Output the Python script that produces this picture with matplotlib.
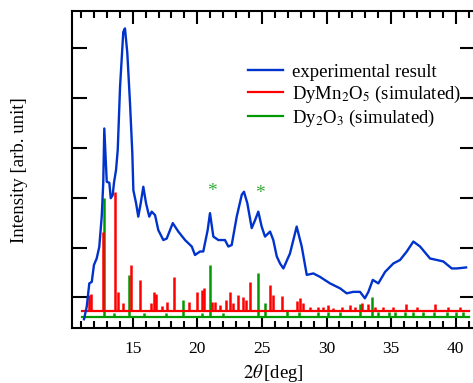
import matplotlib
matplotlib.use("Agg")
import matplotlib.pyplot as plt

plt.rcParams['font.family'] = ['Liberation Serif', 'DejaVu Serif']
plt.rcParams['mathtext.fontset'] = 'stix'

# experimental XRD pattern (traced)
exp_2theta = [11.23, 11.44, 11.64, 11.83, 12.00, 12.21, 12.41, 12.60, 12.72, 12.80,
              12.99, 13.19, 13.30, 13.45, 13.55, 13.71, 13.84, 14.02, 14.27, 14.40,
              14.58, 14.79, 14.97, 15.05, 15.26, 15.43, 15.62, 15.82, 16.03, 16.28,
              16.47, 16.73, 16.98, 17.37, 17.63, 18.10, 18.53, 19.05, 19.57, 19.82,
              20.21, 20.46, 20.80, 20.98, 21.24, 21.63, 22.14, 22.40, 22.66, 23.05,
              23.44, 23.61, 23.87, 24.21, 24.47, 24.72, 24.98, 25.24, 25.63, 25.88,
              26.15, 26.40, 26.66, 27.17, 27.69, 28.08, 28.47, 28.98, 29.50, 30.27,
              31.05, 31.56, 32.07, 32.59, 32.97, 33.24, 33.58, 34.01, 34.53, 35.17,
              35.69, 36.21, 36.72, 37.24, 38.01, 38.53, 39.04, 39.69, 40.08, 40.80]
exp_int = [-0.44, -0.19, 0.28, 0.31, 0.65, 0.78, 1.01, 1.62, 2.30, 3.39,
           2.32, 2.30, 1.99, 2.05, 2.30, 2.56, 2.96, 4.23, 5.33, 5.40,
           4.91, 3.90, 2.89, 2.15, 1.89, 1.62, 1.89, 2.22, 1.89, 1.62,
           1.72, 1.65, 1.35, 1.15, 1.18, 1.49, 1.32, 1.15, 1.02, 0.85,
           0.92, 0.92, 1.35, 1.69, 1.22, 1.15, 1.15, 1.02, 1.05, 1.62,
           2.06, 2.12, 1.89, 1.39, 1.55, 1.72, 1.42, 1.22, 1.32, 1.15,
           0.82, 0.68, 0.58, 0.88, 1.42, 1.02, 0.45, 0.48, 0.41, 0.28,
           0.18, 0.08, 0.11, 0.11, -0.02, 0.11, 0.35, 0.28, 0.51, 0.68,
           0.75, 0.92, 1.12, 1.02, 0.78, 0.75, 0.72, 0.58, 0.58, 0.60]

# DyMn2O5 simulated peaks
dmo_pos = [11.64, 11.80, 12.72, 13.65, 13.89, 14.23, 14.85, 15.59, 16.39, 16.65,
           16.80, 17.24, 17.63, 18.22, 19.38, 19.95, 20.34, 20.52, 21.11, 21.37,
           21.76, 22.20, 22.53, 22.74, 23.13, 23.51, 23.77, 24.08, 25.63, 25.88,
           26.58, 27.69, 27.95, 28.21, 28.73, 29.32, 29.75, 30.14, 30.52, 31.17,
           31.81, 32.20, 32.72, 33.24, 33.74, 34.38, 35.16, 36.12, 36.97, 38.39,
           39.42, 40.32]
dmo_int = [0.32, 0.33, 1.59, 2.39, 0.38, 0.15, 0.92, 0.62, 0.15, 0.38,
           0.34, 0.09, 0.18, 0.68, 0.18, 0.38, 0.42, 0.45, 0.18, 0.17,
           0.11, 0.21, 0.38, 0.15, 0.31, 0.28, 0.21, 0.58, 0.52, 0.31,
           0.30, 0.20, 0.25, 0.15, 0.08, 0.07, 0.07, 0.11, 0.05, 0.07,
           0.11, 0.07, 0.15, 0.13, 0.07, 0.07, 0.08, 0.13, 0.08, 0.13,
           0.07, 0.07]

# Dy2O3 simulated peaks
do_pos = [12.80, 13.53, 14.74, 15.87, 17.60, 18.92, 20.34, 21.00, 22.00, 24.67,
          25.24, 26.97, 27.90, 29.35, 30.14, 31.05, 32.59, 33.55, 34.00, 34.80,
          35.30, 36.10, 36.70, 37.50, 38.30, 39.30, 40.00, 40.60]
do_int = [2.38, 0.07, 0.84, 0.07, 0.07, 0.33, 0.08, 1.03, 0.07, 0.87,
          0.27, 0.11, 0.09, 0.09, 0.09, 0.09, 0.25, 0.39, 0.09, 0.09,
          0.09, 0.09, 0.09, 0.09, 0.09, 0.09, 0.09, 0.09]

dmo_offset = -0.27
do_offset = -0.39
sim_range = [11.05, 41.0]

star_pos = [21.11, 24.86]
star_y = [2.12, 2.08]

blue = '#0033cc'
red = '#ff0000'
green = '#009900'

fig = plt.figure(figsize=(4.73, 3.83), dpi=100)
ax = fig.add_axes([0.1522, 0.1428, 0.852, 0.8285])

# simulated patterns (baseline + sticks)
ax.plot(sim_range, [do_offset, do_offset], color=green, lw=1.6, label='Dy$_2$O$_3$ (simulated)')
ax.vlines(do_pos, do_offset, [do_offset + h for h in do_int], color=green, lw=1.8)
ax.plot(sim_range, [dmo_offset, dmo_offset], color=red, lw=1.6, label='DyMn$_2$O$_5$ (simulated)')
ax.vlines(dmo_pos, dmo_offset, [dmo_offset + h for h in dmo_int], color=red, lw=1.8)

ax.plot(exp_2theta, exp_int, color=blue, lw=1.7, label='experimental result')

for xs, ys in zip(star_pos, star_y):
    ax.text(xs, ys, '*', color='#33aa33', fontsize=14, ha='center', va='center')

ax.set_xlim(10.3, 41.49)
ax.set_ylim(-0.622, 5.749)
ax.set_xticks([15, 20, 25, 30, 35, 40])
ax.set_xticks(range(11, 42), minor=True)
ax.set_yticks([0, 1, 2, 3, 4, 5])
ax.set_yticklabels([])

ax.tick_params(axis='x', which='major', direction='in', length=9, width=1.5,
               top=True, labelsize=12.5, pad=9)
ax.tick_params(axis='x', which='minor', direction='in', length=5, width=1.5, top=True)
ax.tick_params(axis='y', which='major', direction='in', length=10.5, width=1.5, right=True)
for s in ax.spines.values():
    s.set_linewidth(1.5)

ax.set_xlabel(r'$2\theta\,$[deg]', fontsize=13.5)
ax.xaxis.set_label_coords(0.5, -0.141)
ax.xaxis.label.set_va('center')
ax.set_ylabel('Intensity [arb. unit]', fontsize=13.5)
ax.yaxis.set_label_coords(-0.13, 0.5)
ax.yaxis.label.set_va('center')

h, l = ax.get_legend_handles_labels()
order = [2, 1, 0]
ax.legend([h[i] for i in order], [l[i] for i in order], loc='upper left',
          bbox_to_anchor=(0.436, 0.834), frameon=False, fontsize=13.5,
          handlelength=1.9, handletextpad=0.45, borderpad=0, borderaxespad=0,
          labelspacing=0.15)

fig.savefig('out.png', dpi=100)
